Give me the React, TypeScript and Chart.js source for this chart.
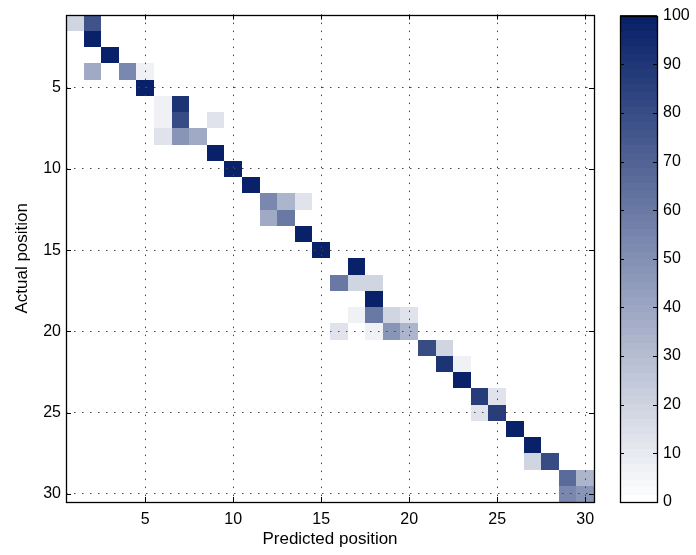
import React, { useEffect, useRef } from "react";
import { Chart, registerables } from "chart.js";

Chart.register(...registerables);

// Confusion matrix (sparse): actual row, predicted column, percentage
const cellActual = [
  1, 1, 2, 3, 4, 4, 4, 5, 6, 6, 7, 7, 7, 8, 8, 8, 9, 10, 11, 12, 12, 12, 13, 13, 14, 15,
  16, 17, 17, 17, 18, 19, 19, 19, 19, 20, 20, 20, 20, 21, 21, 22, 22, 23, 24, 24, 25, 25,
  26, 27, 28, 28, 29, 29, 30, 30,
];
const cellPredicted = [
  1, 2, 2, 3, 2, 4, 5, 5, 6, 7, 6, 7, 9, 6, 7, 8, 9, 10, 11, 12, 13, 14, 12, 13, 14, 15,
  17, 16, 17, 18, 18, 17, 18, 19, 20, 16, 18, 19, 20, 21, 22, 22, 23, 23, 24, 25, 24, 25,
  26, 27, 27, 28, 29, 30, 29, 30,
];
const cellValue = [
  20, 78, 100, 100, 38, 54, 7, 100, 7, 92, 7, 80, 13, 13, 47, 38, 100, 100, 100, 54, 34, 13, 38, 60, 100, 100,
  100, 60, 19, 19, 100, 7, 60, 19, 13, 13, 7, 47, 34, 80, 19, 92, 7, 100, 87, 13, 13, 87,
  100, 100, 19, 80, 67, 34, 54, 47,
];

const axisTickValues = [5, 10, 15, 20, 25, 30];
const axisTickLabels = ["5", "10", "15", "20", "25", "30"];
const colorbarTickValues = [0, 10, 20, 30, 40, 50, 60, 70, 80, 90, 100];
const colorbarTickLabels = ["0", "10", "20", "30", "40", "50", "60", "70", "80", "90", "100"];

const xTitle = "Predicted position";
const yTitle = "Actual position";

const FONT = "'Liberation Sans', Arial, Helvetica, sans-serif";
const DARK = [8, 33, 104];
const LEVELS = 64;

function colorFor(v: number): string {
  const t0 = Math.max(0, Math.min(1, v / 100));
  const idx = Math.min(LEVELS - 1, Math.floor(t0 * LEVELS));
  const t = idx / (LEVELS - 1);
  const r = Math.round(255 + (DARK[0] - 255) * t);
  const g = Math.round(255 + (DARK[1] - 255) * t);
  const b = Math.round(255 + (DARK[2] - 255) * t);
  return `rgb(${r},${g},${b})`;
}

const heatPlugin = {
  id: "heatCells",
  beforeDatasetsDraw(chart: any) {
    const { ctx, scales } = chart;
    const xs = scales.x;
    const ys = scales.y;
    const data = chart.data.datasets[0].data as any[];
    ctx.save();
    data.forEach((d) => {
      const x0 = Math.round(xs.getPixelForValue(d.x - 0.5));
      const x1 = Math.round(xs.getPixelForValue(d.x + 0.5));
      const y0 = Math.round(ys.getPixelForValue(d.y - 0.5));
      const y1 = Math.round(ys.getPixelForValue(d.y + 0.5));
      ctx.fillStyle = colorFor(d.v);
      ctx.fillRect(Math.min(x0, x1), Math.min(y0, y1), Math.abs(x1 - x0), Math.abs(y1 - y0));
    });
    ctx.restore();
  },
  afterDraw(chart: any) {
    const { ctx, chartArea, scales } = chart;
    const { left, right, top, bottom } = chartArea;
    ctx.save();
    ctx.strokeStyle = "#000";
    ctx.lineWidth = 1;
    const tl = 5;
    ctx.beginPath();
    scales.x.ticks.forEach((t: any) => {
      const px = Math.round(scales.x.getPixelForValue(t.value)) + 0.5;
      ctx.moveTo(px, bottom);
      ctx.lineTo(px, bottom - tl);
      ctx.moveTo(px, top);
      ctx.lineTo(px, top + tl);
    });
    scales.y.ticks.forEach((t: any) => {
      const py = Math.round(scales.y.getPixelForValue(t.value)) + 0.5;
      ctx.moveTo(left, py);
      ctx.lineTo(left + tl, py);
      ctx.moveTo(right, py);
      ctx.lineTo(right - tl, py);
    });
    ctx.stroke();
    ctx.lineWidth = 1.3;
    ctx.strokeRect(Math.round(left) + 0.5, Math.round(top) + 0.5, Math.round(right - left), Math.round(bottom - top));
    ctx.restore();
  },
};

const colorbarPlugin = {
  id: "colorbarFill",
  beforeDatasetsDraw(chart: any) {
    const { ctx, chartArea, scales } = chart;
    const ys = scales.y;
    const { left, right, top, bottom } = chartArea;
    ctx.save();
    for (let i = 0; i < LEVELS; i++) {
      const v0 = (i / LEVELS) * 100;
      const v1 = ((i + 1) / LEVELS) * 100;
      const y0 = ys.getPixelForValue(v0);
      const y1 = ys.getPixelForValue(v1);
      ctx.fillStyle = colorFor(v0 + 0.0001);
      ctx.fillRect(left, Math.floor(y1), right - left, Math.ceil(y0) - Math.floor(y1));
    }
    ctx.strokeStyle = "#000";
    ctx.lineWidth = 1;
    ctx.beginPath();
    ys.ticks.forEach((t: any) => {
      const py = Math.round(ys.getPixelForValue(t.value)) + 0.5;
      ctx.moveTo(left, py);
      ctx.lineTo(left + 4, py);
      ctx.moveTo(right, py);
      ctx.lineTo(right - 4, py);
    });
    ctx.stroke();
    ctx.lineWidth = 1.3;
    ctx.strokeRect(Math.round(left) + 0.5, Math.round(top) + 0.5, Math.round(right - left), Math.round(bottom - top));
    ctx.restore();
  },
};

export default function App() {
  const mainRef = useRef<HTMLCanvasElement>(null);
  const cbRef = useRef<HTMLCanvasElement>(null);

  useEffect(() => {
    const points = cellActual.map((r, i) => ({ x: cellPredicted[i], y: r, v: cellValue[i] }));
    const gridCommon = {
      color: "#444",
      lineWidth: 1,
      drawTicks: false,
      z: 1,
    };
    const main = new Chart(mainRef.current!, {
      type: "scatter",
      data: {
        datasets: [
          {
            data: points,
            pointRadius: 0,
            pointHoverRadius: 0,
            backgroundColor: "rgba(0,0,0,0)",
          },
        ],
      },
      options: {
        animation: false,
        responsive: false,
        events: [],
        layout: { padding: { top: 12, right: 16, left: 0, bottom: 0 } },
        plugins: { legend: { display: false }, tooltip: { enabled: false } },
        scales: {
          x: {
            type: "linear",
            min: 0.5,
            max: 30.5,
            z: 1,
            grid: gridCommon,
            border: { display: false, dash: [1.5, 6.5] },
            afterBuildTicks: (axis: any) => {
              axis.ticks = axisTickValues.map((v) => ({ value: v }));
            },
            afterFit: (axis: any) => {
              axis.height = 53;
            },
            ticks: {
              color: "#000",
              font: { family: FONT, size: 16 },
              padding: 8,
              maxRotation: 0,
              callback: (value: any) => axisTickLabels[axisTickValues.indexOf(Number(value))] ?? "",
            },
            title: {
              display: true,
              text: xTitle,
              color: "#000",
              font: { family: FONT, size: 17 },
              padding: { top: 0, bottom: 5 },
            },
          },
          y: {
            type: "linear",
            min: 0.5,
            max: 30.5,
            reverse: true,
            z: 1,
            grid: gridCommon,
            border: { display: false, dash: [1.5, 6.5] },
            afterBuildTicks: (axis: any) => {
              axis.ticks = axisTickValues.map((v) => ({ value: v }));
            },
            afterFit: (axis: any) => {
              axis.width = 66;
            },
            ticks: {
              color: "#000",
              font: { family: FONT, size: 16 },
              padding: 5,
              callback: (value: any) => axisTickLabels[axisTickValues.indexOf(Number(value))] ?? "",
            },
            title: {
              display: true,
              text: yTitle,
              color: "#000",
              font: { family: FONT, size: 17 },
              padding: { top: 12, bottom: 0 },
            },
          },
        },
      },
      plugins: [heatPlugin],
    } as any);

    const cb = new Chart(cbRef.current!, {
      type: "bar",
      data: { labels: [""], datasets: [{ data: [0], backgroundColor: "rgba(0,0,0,0)" }] },
      options: {
        animation: false,
        responsive: false,
        events: [],
        layout: { padding: { top: 12, left: 20, right: 0, bottom: 53 } },
        plugins: { legend: { display: false }, tooltip: { enabled: false } },
        scales: {
          x: { display: false },
          y: {
            type: "linear",
            position: "right",
            min: 0,
            max: 100,
            grid: { display: false, drawTicks: false },
            border: { display: false },
            afterBuildTicks: (axis: any) => {
              axis.ticks = colorbarTickValues.map((v) => ({ value: v }));
            },
            afterFit: (axis: any) => {
              axis.width = 39;
            },
            ticks: {
              color: "#000",
              font: { family: FONT, size: 16 },
              padding: 6,
              callback: (value: any) => colorbarTickLabels[colorbarTickValues.indexOf(Number(value))] ?? "",
            },
          },
        },
      },
      plugins: [colorbarPlugin],
    } as any);

    return () => {
      main.destroy();
      cb.destroy();
    };
  }, []);

  return (
    <div style={{ position: "fixed", left: 0, top: 0, width: 696, height: 555, background: "#fff", overflow: "hidden" }}>
      <canvas ref={mainRef} width={610} height={555} style={{ position: "absolute", left: 0, top: 0, width: 610, height: 555 }} />
      <canvas ref={cbRef} width={96} height={555} style={{ position: "absolute", left: 600, top: 0, width: 96, height: 555 }} />
    </div>
  );
}
